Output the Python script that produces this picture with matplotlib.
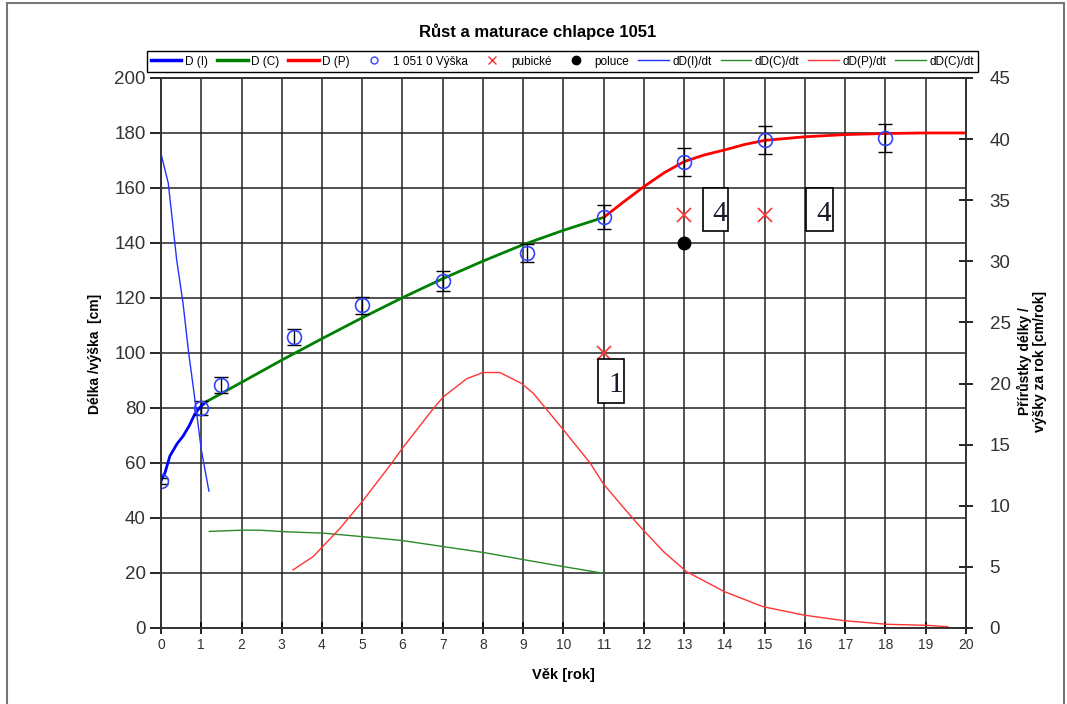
import numpy as np
import matplotlib
matplotlib.use('Agg')
import matplotlib.pyplot as plt
from matplotlib.lines import Line2D
from matplotlib.patches import Rectangle

plt.rcParams['font.family'] = ['Liberation Sans', 'DejaVu Sans']

# measured heights (age in years, height in cm, error)
vek = [0, 1, 1.5, 3.3, 5, 7, 9.1, 11, 13, 15, 18]
vyska = [53.5, 80, 88.2, 105.8, 117.3, 126.2, 136.4, 149.3, 169.5, 177.5, 178.2]
chyba = [1, 2.4, 2.9, 3, 3, 3.5, 3.3, 4.4, 5, 5, 5]

# fitted components: infancy, childhood, puberty
x_I = [0, 0.1, 0.22, 0.4, 0.55, 0.7, 0.84, 0.97, 1.13]
D_I = [53.5, 56.5, 62.5, 67, 69.8, 73.5, 77.8, 80.3, 82.3]
x_C = [1.13, 2, 3, 4, 5, 6, 7, 8, 9, 10, 11]
D_C = [82.3, 89.3, 97.4, 105.2, 112.8, 120.1, 127, 133.4, 139.4, 144.6, 149.3]
x_P = [11, 11.5, 12, 12.5, 13, 13.5, 14, 14.5, 15, 16, 17, 18, 19, 20]
D_P = [149.3, 155, 160.5, 165.5, 169.6, 172, 173.8, 175.8, 177.3, 178.6, 179.4, 179.8, 180, 180]

# growth velocities (cm/rok)
vx_I = [0, 0.18, 0.39, 0.55, 0.68, 0.85, 1.0, 1.19]
v_I = [38.8, 36.4, 30.1, 26.5, 22.7, 18.5, 14.6, 11.2]
vx_C = [1.2, 2.0, 2.45, 3.04, 4.06, 5.0, 6.0, 7.03, 8.04, 9.06, 10.0, 11.0]
v_C = [7.9, 8.0, 8.0, 7.88, 7.75, 7.47, 7.15, 6.65, 6.16, 5.56, 5.02, 4.47]
vx_P = [3.28, 3.78, 4.45, 4.99, 5.69, 6.02, 6.73, 7.01, 7.6, 8.0, 8.42, 8.96, 9.25,
        10.0, 10.66, 10.99, 11.4, 11.9, 12.5, 13.06, 14.0, 14.95, 15.96, 16.96,
        18.04, 19.0, 19.55]
v_P = [4.75, 5.84, 8.16, 10.3, 13.3, 14.8, 17.8, 18.9, 20.4, 20.9, 20.9, 20.0, 19.2,
       16.2, 13.5, 11.8, 10.2, 8.3, 6.2, 4.6, 2.97, 1.75, 1.06, 0.6,
       0.3, 0.22, 0.1]

# puberty ratings and first emission
pubicke_x = [11, 13, 15]
pubicke_y = [100, 150, 150]
poluce_x = [13]
poluce_y = [140]

# stage boxes: (x0, x1, y0, y1, label)
stadia = [(10.86, 11.51, 81.9, 97.7, '1'),
          (13.46, 14.10, 144.2, 160.0, '4'),
          (16.02, 16.69, 144.2, 160.0, '4')]

fig = plt.figure(figsize=(10.67, 7.04), dpi=100)
ax = fig.add_axes([0.1509, 0.108, 0.7544, 0.7813])
ax2 = ax.twinx()

ax.set_xlim(0, 20)
ax.set_ylim(0, 200)
ax2.set_ylim(0, 45)
ax.set_xticks(range(0, 21))
ax.set_yticks(range(0, 201, 20))
ax2.set_yticks(range(0, 46, 5))
ax.grid(True, color='#222222', lw=1.1)
ax.set_axisbelow(True)

for a in (ax, ax2):
    for s in a.spines.values():
        s.set_color('#333333')
        s.set_linewidth(1.2)

ax.tick_params(axis='y', direction='out', length=8, width=1.2, labelsize=13.5,
               labelcolor='#333333', pad=3)
ax.tick_params(axis='x', direction='inout', length=8, width=1.2, labelsize=10,
               labelcolor='#333333', pad=3)
ax2.tick_params(axis='y', direction='inout', length=10, width=1.2, labelsize=13.5,
                labelcolor='#333333', pad=12)

# velocity curves on the right axis
ax2.plot(vx_I, v_I, color='#2233ff', lw=1)
ax2.plot(vx_C, v_C, color='#2a8a2a', lw=1)
ax2.plot(vx_P, v_P, color='#ff3333', lw=1)

# height components
ax.plot(x_I, D_I, color='#0000ff', lw=2)
ax.plot(x_C, D_C, color='#008000', lw=2)
ax.plot(x_P, D_P, color='#ff0000', lw=2)

ax.errorbar(vek, vyska, yerr=chyba, fmt='none', ecolor='black', elinewidth=1,
            capsize=5, capthick=1, zorder=4)
ax.plot(vek, vyska, 'o', ms=10, mfc='none', mec='#3344ff', mew=1.2, zorder=5)
ax.plot(pubicke_x, pubicke_y, 'x', ms=10, color='#ff3333', mew=1.2, zorder=5)
ax.plot(poluce_x, poluce_y, 'o', ms=9, color='black', zorder=5)

for x0, x1, y0, y1, lab in stadia:
    ax.add_patch(Rectangle((x0, y0), x1 - x0, y1 - y0, facecolor='white',
                           edgecolor='black', lw=1.2, zorder=6))
    ax.text(x1 - 0.04, y0 + 1.6, lab, ha='right', va='bottom', fontsize=21,
            family='Liberation Serif', color='#1a1a2a', zorder=7)

# legend row above the plot
handles = [
    Line2D([], [], color='#0000ff', lw=2.5),
    Line2D([], [], color='#008000', lw=2.5),
    Line2D([], [], color='#ff0000', lw=2.5),
    Line2D([], [], ls='none', marker='o', ms=5, mfc='none', mec='#3344ff'),
    Line2D([], [], ls='none', marker='x', ms=6, color='#ff3333'),
    Line2D([], [], ls='none', marker='o', ms=6, color='black'),
    Line2D([], [], color='#2233ff', lw=1),
    Line2D([], [], color='#2a8a2a', lw=1),
    Line2D([], [], color='#ff3333', lw=1),
    Line2D([], [], color='#2a8a2a', lw=1),
]
labels = ['D (I)', 'D (C)', 'D (P)', '1 051 0 Výška', 'pubické', 'poluce',
          'dD(I)/dt', 'dD(C)/dt', 'dD(P)/dt', 'dD(C)/dt']
leg = fig.legend(handles, labels, loc='center', bbox_to_anchor=(0.527, 0.9126),
                 ncol=10, fontsize=8.5, handlelength=2.6, handletextpad=0.3,
                 columnspacing=0.75, borderpad=0.35, fancybox=False, framealpha=1,
                 edgecolor='black')
leg.get_frame().set_linewidth(1.0)

fig.text(0.504, 0.9545, 'Růst a maturace chlapce 1051', ha='center', va='center',
         fontsize=12, fontweight='bold')
ax.set_xlabel('Věk [rok]', fontsize=10.5, fontweight='bold', labelpad=12)
fig.text(0.089, 0.497, 'Délka /výška  [cm]', rotation=90, ha='center', va='center',
         fontsize=10, fontweight='bold')
fig.text(0.967, 0.487, 'Přírůstky délky /\nvýšky za rok [cm/rok]', rotation=90,
         ha='center', va='center', fontsize=10, fontweight='bold', linespacing=1.1)

# outer frame
fig.patches.append(Rectangle((0.0066, -0.01), 0.9904, 1.0057, transform=fig.transFigure,
                             fill=False, edgecolor='#777777', lw=1.5))

fig.savefig('out.png', dpi=100)
